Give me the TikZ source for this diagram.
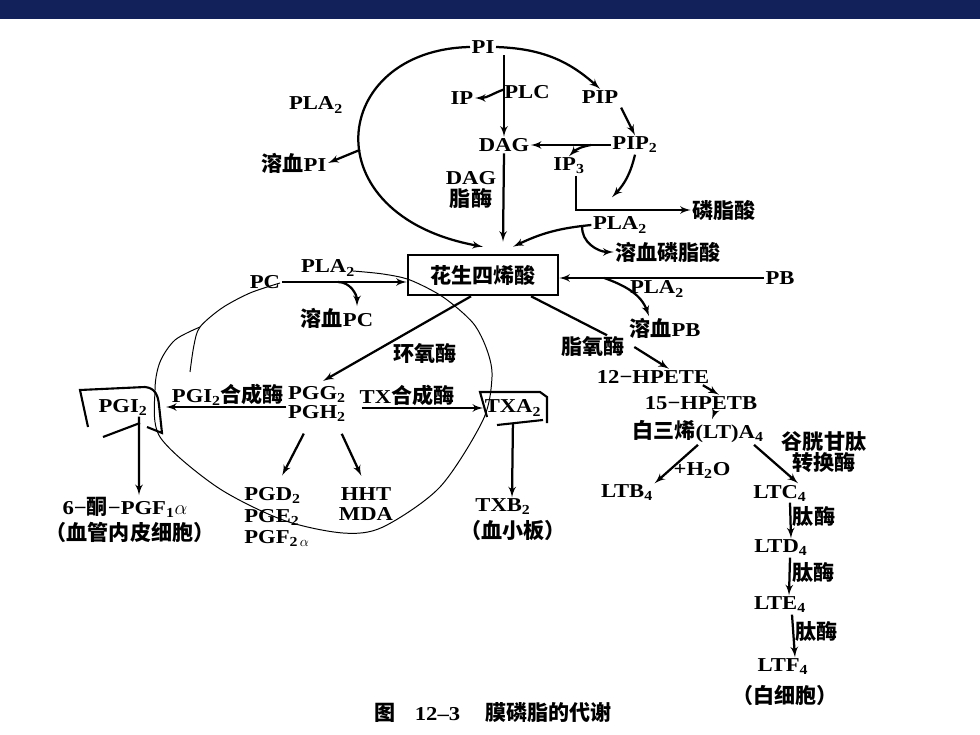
\documentclass[tikz,border=0pt]{standalone}
\usepackage{fontspec}
\setmainfont{Liberation Serif}[FakeStretch=1.15]
\newfontfamily\cjk{Noto Sans CJK SC}[Scale=1.07]
\usetikzlibrary{arrows}
\definecolor{barblue}{HTML}{13215B}
\newcommand{\zh}[1]{{\cjk #1}}
\newcommand{\sub}[1]{\textsubscript{#1}}

\begin{document}
\begin{tikzpicture}[
    x=0.025cm, y=0.025cm,
    every node/.style={font=\fontsize{14}{14}\selectfont\bfseries, inner sep=1pt},
    acidbox/.style={draw, line width=1.8pt, minimum width=3.75cm, minimum height=1cm},
    line/.style={draw, line width=1.6pt, -latex'},
    plainline/.style={draw, line width=1.6pt},
    loopline/.style={draw, line width=0.7pt},
    scroll/.style={draw, line width=1.5pt}
]
    \useasboundingbox (0,0) rectangle (980,-735);
    \fill [barblue] (0,0) rectangle (980,-19);

    % phosphatidylinositol part
    \node (PI) at (483,-47) {PI};
    \node (IP) at (462,-98) {IP};
    \node (PLC) at (527,-92) {PLC};
    \node (PIP) at (600,-97) {PIP};
    \node (DAG) at (504,-145) {DAG};
    \node (PIP2) at (635,-145) {PIP\sub{2}};
    \node (IP3) at (569,-166) {IP\sub{3}};
    \node [align=center] (daglip) at (471,-190) {DAG\\[2pt]\zh{脂酶}};
    \node (pa) at (724,-210) {\zh{磷脂酸}};
    \node (plar) at (620,-225) {PLA\sub{2}};
    \node (lpa) at (668,-252) {\zh{溶血磷脂酸}};
    \node (plapi) at (316,-105) {PLA\sub{2}};
    \node (lpi) at (294,-163) {\zh{溶血}PI};

    \node [acidbox] (aa) at (483,-275) {\zh{花生四烯酸}};
    \node (plapc) at (328,-268) {PLA\sub{2}};
    \node (PC) at (265,-282) {PC};
    \node (lpc) at (337,-318) {\zh{溶血}PC};
    \node (PB) at (780,-278) {PB};
    \node (plapb) at (657,-289) {PLA\sub{2}};
    \node (lpb) at (665,-328) {\zh{溶血}PB};

    % lipoxygenase branch
    \node (cox) at (425,-353) {\zh{环氧酶}};
    \node (lox) at (593,-347) {\zh{脂氧酶}};
    \node (hpa) at (653,-377) {12−HPETE};
    \node (hpb) at (701,-403) {15−HPETB};
    \node (lta) at (698,-432) {\zh{白三烯}(LT)A\sub{4}};
    \node [align=center] (gst) at (824,-452) {\zh{谷胱甘肽}\\\zh{转换酶}};
    \node (water) at (702,-470) {+H\sub{2}O};
    \node (ltb) at (627,-493) {LTB\sub{4}};
    \node (ltc) at (780,-493) {LTC\sub{4}};
    \node (ltd) at (781,-548) {LTD\sub{4}};
    \node (lte) at (780,-605) {LTE\sub{4}};
    \node (ltf) at (783,-667) {LTF\sub{4}};
    \node (wbc) at (785,-695) {\zh{（白细胞）}};

    % cyclooxygenase branch
    \node [align=center] (pgg) at (317,-404) {PGG\sub{2}\\PGH\sub{2}};
    \node (pgis) at (228,-395) {PGI\sub{2}\zh{合成酶}};
    \node (txs) at (407,-395) {TX\zh{合成酶}};
    \node (pgi) at (123,-407) {PGI\sub{2}};
    \node (txa) at (513,-408) {TXA\sub{2}};
    \node (keto) at (125,-507) {6−\zh{酮}−PGF\sub{1}$\alpha$};
    \node (endo) at (130,-532) {\zh{（血管内皮细胞）}};
    \node [align=left] (pgd) at (277,-517) {PGD\sub{2}\\[1.5pt]PGE\sub{2}\\[1.5pt]PGF\sub{2\,$\alpha$}};
    \node [align=center] (hht) at (366,-504) {HHT\\MDA};
    \node (txb) at (503,-507) {TXB\sub{2}};
    \node (plt) at (513,-530) {\zh{（血小板）}};

    \node (cap) at (493,-713) {\zh{图}\quad 12–3\quad\ \zh{膜磷脂的代谢}};

    % scroll frames
    \draw [scroll] (88,-427) -- (80,-390) -- (145,-387) .. controls (155,-388) and (158,-395) .. (159,-405) -- (162,-433) -- (147,-427);
    \draw [scroll] (103,-437) -- (140,-423);
    \draw [scroll] (487,-417) -- (480,-392) -- (540,-392) -- (547,-397) -- (547,-423);
    \draw [scroll] (497,-425) -- (543,-420);

    % thin loop
    \draw [loopline] plot [smooth] coordinates {(190,-372) (194,-345) (200,-327) (222,-308) (250,-293) (280,-283)};
    \draw [loopline] plot [smooth] coordinates {(200,-327) (175,-340) (160,-362) (155,-390) (160,-437) (217,-487) (283,-520) (343,-533) (383,-527) (440,-487) (483,-420) (492,-377) (487,-350) (473,-323) (443,-297) (410,-280) (383,-274) (353,-271)};

    \path [line] (PI.west) .. controls (330,-50) and (310,-215) .. coordinate[pos=0.55] (pifork) ([yshift=0.175cm]aa.north);
    \path [line] (pifork) -- (lpi.east);
    \path [line] (PI.east) to[bend left=20] (PIP.north);
    \path [line] (DAG.north |- PI.south) -- coordinate[pos=0.42] (plcfork) (DAG.north);
    \path [line] (plcfork) to[out=200, in=0] (IP.east);
    \path [line, shorten <=2pt] (PIP.south east) -- (PIP2.north);
    \path [line] (PIP2.west) -- coordinate[pos=0.25] (ipfork) (DAG.east);
    \path [line] (ipfork) to[out=190, in=45] (IP3.north);
    \path [line] (PIP2.south) to[bend left=15] ([xshift=-0.2cm, yshift=0.45cm]plar.north);
    \path [line] ([xshift=-0.25cm]IP3.south east) |- (pa.west);
    \path [line] (DAG.south) -- ([xshift=0.5cm, yshift=0.3cm]aa.north);
    \path [line] (plar.west) to[bend right=10] coordinate[pos=0.1] (lpafork) ([xshift=0.75cm, yshift=0.175cm]aa.north);
    \path [line] (lpafork) to[out=-95, in=180] (lpa.west);

    \path [line] (PC.east) -- coordinate[pos=0.45] (pcfork) (PC.east -| aa.west);
    \path [line] (pcfork) to[out=0, in=90] ([xshift=0.5cm]lpc.north);
    \path [line] (PB.west) -- coordinate[pos=0.78] (pbfork) (PB.west -| aa.east);
    \path [line] (pbfork) to[out=-20, in=110] ([xshift=-0.4cm]lpb.north);

    \path [line, shorten >=5pt] ([xshift=-0.3cm]aa.south) -- (pgg.north);
    \path [plainline] ([xshift=1.2cm]aa.south) -- ([xshift=0.35cm]lox.north);
    \path [line] ([xshift=0.2cm]lox.east) -- ([xshift=0.4cm]hpa.north);
    \path [line] ([xshift=-0.2cm]hpa.south east) -- ([xshift=0.45cm]hpb.north);
    \path [line] ([xshift=0.35cm]hpb.south) -- ([xshift=0.35cm]lta.north);
    \path [line] (lta.south) -- (ltb.north east);
    \path [line] ([xshift=1.4cm]lta.south) -- ([xshift=0.45cm]ltc.north);
    \path [line] ([xshift=0.25cm]ltc.south) -- node[right, pos=0.4] {\zh{肽酶}} ([xshift=0.25cm]ltd.north);
    \path [line] ([xshift=0.225cm]ltd.south) -- node[right, pos=0.4] {\zh{肽酶}} ([xshift=0.225cm]lte.north);
    \path [line] ([xshift=0.3cm]lte.south) -- node[right, pos=0.4] {\zh{肽酶}} ([xshift=0.3cm]ltf.north);

    \path [line, shorten >=12pt] (pgg.west |- pgi.east) -- (pgi.east);
    \path [line, shorten <=10pt] (pgg.east |- txa.west) -- (txa.west);
    \path [line, shorten <=8pt, shorten >=8pt] ([xshift=-0.2cm]pgg.south) -- (pgd.north);
    \path [line, shorten <=8pt, shorten >=8pt] ([xshift=0.5cm]pgg.south) -- (hht.north);
    \path [line] ([xshift=0.4cm]pgi.south) -- ([xshift=0.35cm]keto.north);
    \path [line, shorten <=4pt] (txa.south) -- ([xshift=0.225cm]txb.north);
\end{tikzpicture}
\end{document}
